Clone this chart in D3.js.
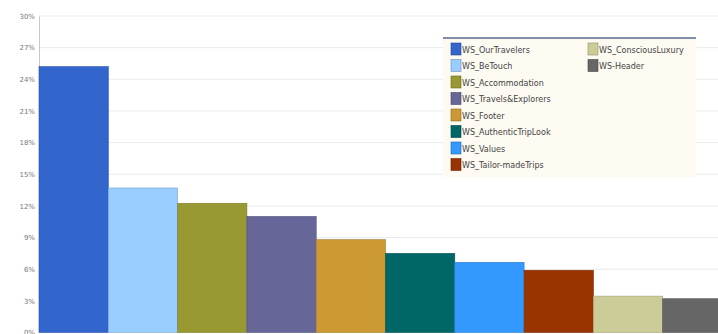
<!DOCTYPE html>
<html>
<head>
<meta charset="utf-8">
<script src="https://cdn.jsdelivr.net/npm/d3@7"></script>
<style>
  body { margin: 0; background: #fff; }
  svg { display: block; }
</style>
</head>
<body>
<div id="chart"></div>
<script>
// Data
const categories = ["WS_OurTravelers", "WS_BeTouch", "WS_Accommodation", "WS_Travels&Explorers",
  "WS_Footer", "WS_AuthenticTripLook", "WS_Values", "WS_Tailor-madeTrips",
  "WS_ConsciousLuxury", "WS-Header"];
const shares = [25.2, 13.7, 12.25, 11.0, 8.8, 7.5, 6.65, 5.9, 3.45, 3.2];
const colors = ["#3366cc", "#99ccff", "#999933", "#666699", "#cc9933",
  "#006666", "#3399ff", "#993300", "#cccc99", "#666666"];
const yTicks = [0, 3, 6, 9, 12, 15, 18, 21, 24, 27, 30];

const width = 718, height = 334;
const plotLeft = 39, plotBottom = 332.5, plotTop = 16;

const svg = d3.select("#chart").append("svg")
  .attr("width", width)
  .attr("height", height);

// the plot area is wider than the window, last bar gets cut
const x = d3.scaleBand()
  .domain(categories)
  .range([plotLeft, plotLeft + 69.3 * categories.length])
  .padding(0);

const y = d3.scaleLinear()
  .domain([0, 30])
  .range([plotBottom, plotTop]);

// gridlines
svg.append("g")
  .selectAll("line")
  .data(yTicks.filter(t => t > 0))
  .enter().append("line")
  .attr("x1", plotLeft)
  .attr("x2", width)
  .attr("y1", d => y(d))
  .attr("y2", d => y(d))
  .attr("stroke", "#ebebeb")
  .attr("stroke-width", 1);

// y axis labels
const yAxis = d3.axisLeft(y)
  .tickValues(yTicks)
  .tickFormat(d => d + "%")
  .tickSize(0)
  .tickPadding(4);

svg.append("g")
  .attr("transform", `translate(${plotLeft},0)`)
  .call(yAxis)
  .call(g => g.select(".domain").attr("stroke", "#c8c8c8"))
  .call(g => g.selectAll("text")
    .attr("font-family", "DejaVu Sans, sans-serif")
    .attr("font-size", "7px")
    .attr("fill", "#777"));

// bars
svg.append("g")
  .selectAll("rect")
  .data(categories)
  .enter().append("rect")
  .attr("x", d => x(d))
  .attr("y", (d, i) => y(shares[i]))
  .attr("width", x.bandwidth())
  .attr("height", (d, i) => plotBottom - y(shares[i]))
  .attr("fill", (d, i) => colors[i])
  .attr("stroke", (d, i) => d3.color(colors[i]).darker(0.6))
  .attr("stroke-width", 0.6);

// legend
const lg = svg.append("g").attr("transform", "translate(443,38)");
lg.append("rect")
  .attr("width", 253)
  .attr("height", 139)
  .attr("fill", "#fdfaf2");
lg.append("line")
  .attr("x1", 0).attr("x2", 253)
  .attr("y1", 0).attr("y2", 0)
  .attr("stroke", "#5a6a8c")
  .attr("stroke-width", 1.5);

const perCol = 8;
const item = lg.selectAll("g.item")
  .data(categories)
  .enter().append("g")
  .attr("class", "item")
  .attr("transform", (d, i) => {
    const col = Math.floor(i / perCol), row = i % perCol;
    return `translate(${8 + col * 137},${5 + row * 16.5})`;
  });

item.append("rect")
  .attr("width", 10)
  .attr("height", 12)
  .attr("fill", (d, i) => colors[i])
  .attr("stroke", (d, i) => d3.color(colors[i]).darker(1))
  .attr("stroke-width", 0.6);

item.append("text")
  .attr("x", 11)
  .attr("y", 9.5)
  .attr("font-family", "DejaVu Sans, sans-serif")
  .attr("font-size", "8px")
  .attr("fill", "#444")
  .text(d => d);
</script>
</body>
</html>
